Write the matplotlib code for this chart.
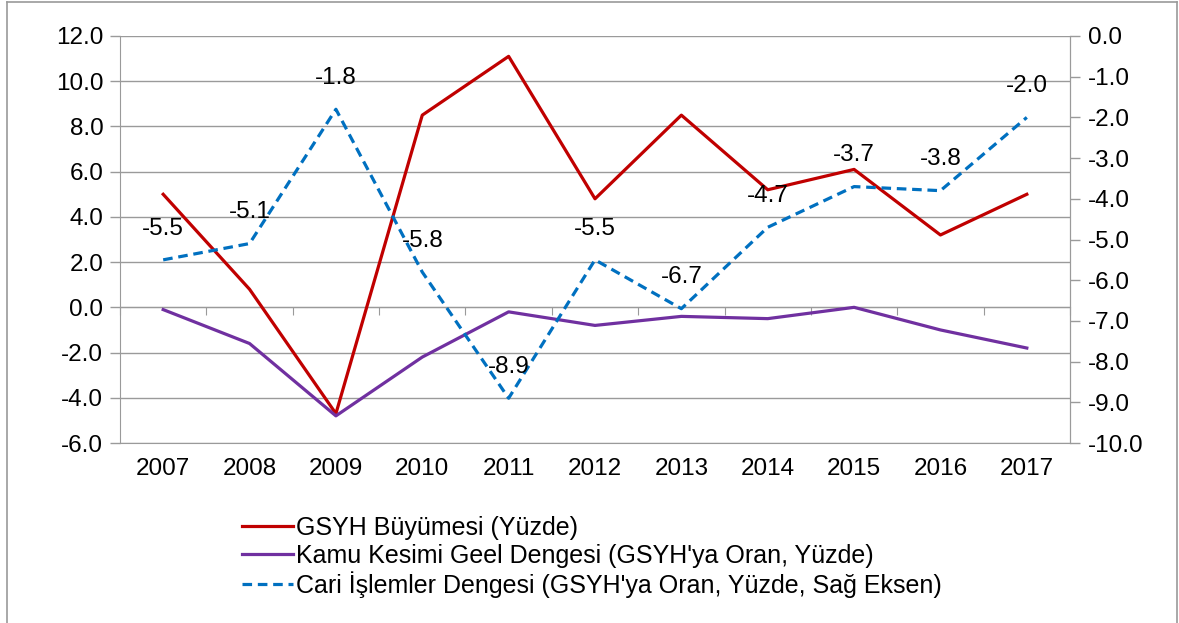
"""Turkey macro indicators 2007-2017: growth, public balance, current account."""

import matplotlib.pyplot as plt
from matplotlib.lines import Line2D


years = ["2007", "2008", "2009", "2010", "2011", "2012",
         "2013", "2014", "2015", "2016", "2017"]
gdp_growth = [5.0, 0.8, -4.7, 8.5, 11.1, 4.8, 8.5, 5.2, 6.1, 3.2, 5.0]
public_balance = [-0.1, -1.6, -4.8, -2.2, -0.2, -0.8, -0.4, -0.5, 0.0, -1.0, -1.8]
current_account = [-5.5, -5.1, -1.8, -5.8, -8.9, -5.5, -6.7, -4.7, -3.7, -3.8, -2.0]

label_gdp = "GSYH Büyümesi (Yüzde)"
label_public = "Kamu Kesimi Geel Dengesi (GSYH'ya Oran, Yüzde)"
label_current = "Cari İşlemler Dengesi (GSYH'ya Oran, Yüzde, Sağ Eksen)"

RED = "#C00000"
PURPLE = "#7030A0"
BLUE = "#0070C0"
GREY = "#9A9A9A"
FONT = 17.5

plt.rcParams["font.family"] = ["Liberation Sans", "DejaVu Sans"]

fig = plt.figure(figsize=(11.79, 6.23), dpi=100)
ax = fig.add_axes([120 / 1179, 180 / 623, 950 / 1179, 407 / 623])
x = list(range(len(years)))

(l_gdp,) = ax.plot(x, gdp_growth, color=RED, lw=2.3, label=label_gdp, zorder=3)
(l_pub,) = ax.plot(x, public_balance, color=PURPLE, lw=2.3, label=label_public, zorder=3)

ax.set_xlim(-0.5, len(years) - 0.5)
ax.set_ylim(-6, 12)
ax.set_yticks(range(-6, 13, 2))
ax.set_yticklabels([f"{v:.1f}" for v in range(-6, 13, 2)])
ax.set_xticks(x)
ax.set_xticklabels(years)
ax.tick_params(axis="x", length=0, pad=11, labelsize=FONT)
ax.tick_params(axis="y", length=7, color=GREY, width=1, pad=5, labelsize=FONT)
ax.grid(axis="y", color=GREY, lw=1)
ax.set_axisbelow(True)
for side in ["left", "bottom", "right"]:
    ax.spines[side].set_color(GREY)
ax.spines["top"].set_visible(False)

# category axis crossing at zero, ticks between categories
cross = ax.secondary_xaxis(6 / 18)
cross.set_xticks([i - 0.5 for i in range(len(years) + 1)])
cross.set_xticklabels([])
cross.tick_params(axis="x", direction="out", length=6, color=GREY)
cross.spines["bottom"].set_color(GREY)

ax2 = ax.twinx()
(l_cur,) = ax2.plot(x, current_account, color=BLUE, lw=2.3,
                    linestyle=(0, (3, 1.8)), label=label_current, zorder=3)
ax2.set_ylim(-10, 0)
ax2.set_yticks(range(-10, 1))
ax2.set_yticklabels([f"{v:.1f}" for v in range(-10, 1)])
ax2.tick_params(axis="y", length=7, color=GREY, width=1, pad=6, labelsize=FONT)
for side in ["left", "bottom", "right", "top"]:
    ax2.spines[side].set_visible(False)
ax2.spines["right"].set_visible(True)
ax2.spines["right"].set_color(GREY)

for xi, v in zip(x, current_account):
    ax2.annotate(f"{v:.1f}", (xi, v), xytext=(0, 22.5), textcoords="offset points",
                 ha="center", va="center", fontsize=FONT)

fig.legend(handles=[l_gdp, l_pub, l_cur], loc="upper left",
           bbox_to_anchor=(242 / 1179, 1 - 516 / 623), frameon=False,
           fontsize=18, handlelength=2.05, handletextpad=0.12,
           labelspacing=0.15, borderpad=0, borderaxespad=0)

# outer chart frame
for xs, ys in [([7 / 1179, 7 / 1179], [0, 1 - 2 / 623]),
               ([7 / 1179, 1177 / 1179], [1 - 2 / 623, 1 - 2 / 623]),
               ([1177 / 1179, 1177 / 1179], [0, 1 - 2 / 623])]:
    fig.add_artist(Line2D(xs, ys, color=GREY, lw=1.2, transform=fig.transFigure))

fig.savefig("out.png", dpi=100)
